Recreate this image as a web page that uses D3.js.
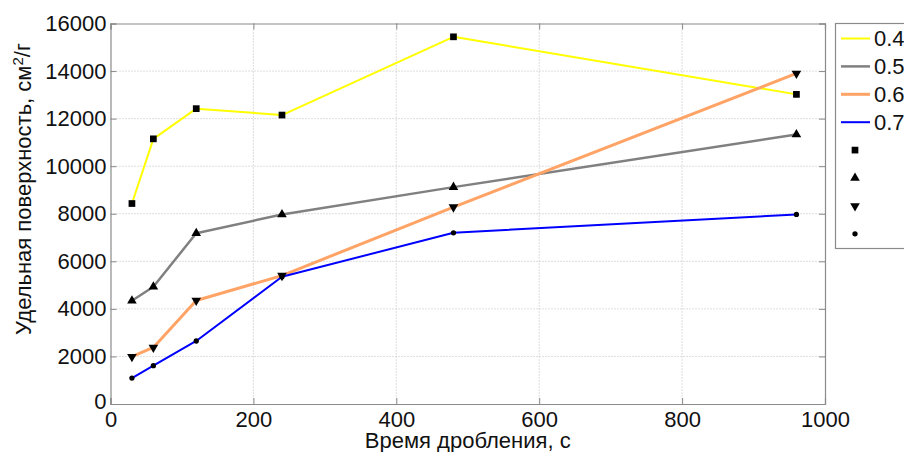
<!DOCTYPE html>
<html><head><meta charset="utf-8">
<script src="https://cdn.jsdelivr.net/npm/d3@7"></script>
<style>body{margin:0;background:#fff}svg{display:block;font-family:Arial,"Liberation Sans",sans-serif}</style>
</head><body><svg id="c" width="904" height="452"></svg>
<script>
const times = [30, 60, 120, 240, 480, 960];
const seriesNames = ["0.4", "0.5", "0.6", "0.7"];
const s04 = [8430, 11150, 12420, 12150, 15440, 13020];
const s05 = [4340, 4930, 7180, 7970, 9120, 11330];
const s06 = [1990, 2380, 4350, 5400, 8280, 13900];
const s07 = [1090, 1610, 2650, 5350, 7200, 7970];
const xTicks = [0, 200, 400, 600, 800, 1000];
const yTicks = [0, 2000, 4000, 6000, 8000, 10000, 12000, 14000, 16000];

const colors = ["#ffff00", "#808080", "#ffa466", "#0000ff"];
const widths = [2, 2.5, 3, 2];
const symbols = [d3.symbolSquare, d3.symbolTriangle, "down", d3.symbolCircle];
const symSizes = [45, 40, 40, 22];
const allSeries = [s04, s05, s06, s07];

const svg = d3.select("#c");
const L = 110.5, R = 825, T = 23.5, B = 404;
const x = d3.scaleLinear().domain([0, 1000]).range([L, R]);
const y = d3.scaleLinear().domain([0, 16000]).range([B, T]);

// grid
const g = svg.append("g");
g.selectAll(".gx").data(xTicks.slice(1, -1)).join("line")
  .attr("x1", d => x(d)).attr("x2", d => x(d)).attr("y1", T).attr("y2", B)
  .attr("stroke", "#bdbdbd").attr("stroke-width", 1).attr("stroke-dasharray", "1,2");
g.selectAll(".gy").data(yTicks.slice(1, -1)).join("line")
  .attr("y1", d => y(d)).attr("y2", d => y(d)).attr("x1", L).attr("x2", R)
  .attr("stroke", "#bdbdbd").attr("stroke-width", 1).attr("stroke-dasharray", "1,2");

// axes
const axColor = "#8a8a8a";
const xAxis = svg.append("g").attr("transform", `translate(0,${B})`)
  .call(d3.axisBottom(x).tickValues(xTicks).tickSize(-6).tickPadding(7).tickFormat(d3.format("d")));
const xAxisTop = svg.append("g").attr("transform", `translate(0,${T})`)
  .call(d3.axisTop(x).tickValues(xTicks).tickSize(-6).tickFormat(""));
const yAxis = svg.append("g").attr("transform", `translate(${L},0)`)
  .call(d3.axisLeft(y).tickValues(yTicks).tickSize(-6).tickPadding(4).tickFormat(d3.format("d")));
const yAxisR = svg.append("g").attr("transform", `translate(${R},0)`)
  .call(d3.axisRight(y).tickValues(yTicks).tickSize(-6).tickFormat(""));
[xAxis, xAxisTop, yAxis, yAxisR].forEach(a => {
  a.select(".domain").attr("stroke", axColor).attr("stroke-width", 1.2);
  a.selectAll(".tick line").attr("stroke", axColor);
  a.selectAll("text").attr("font-size", 22).attr("fill", "#111").attr("font-family", "Arial, 'Liberation Sans', sans-serif");
});
// MATLAB style: the y "0" sits slightly higher
yAxis.selectAll(".tick text").filter(d => d === 0).attr("dy", "0.2em");

// lines
const line = d3.line().x((d, i) => x(times[i])).y(d => y(d));
allSeries.forEach((s, k) => {
  svg.append("path").datum(s).attr("d", line).attr("fill", "none")
    .attr("stroke", colors[k]).attr("stroke-width", widths[k]).attr("stroke-linejoin", "round");
});
function symPath(k) {
  if (symbols[k] === "down") return d3.symbol().type(d3.symbolTriangle).size(symSizes[k])();
  return d3.symbol().type(symbols[k]).size(symSizes[k])();
}
allSeries.forEach((s, k) => {
  svg.append("g").selectAll("path").data(s).join("path")
    .attr("d", symPath(k))
    .attr("transform", (d, i) => `translate(${x(times[i])},${y(d)})` + (symbols[k] === "down" ? " rotate(180)" : ""))
    .attr("fill", "#000");
});

// axis labels
svg.append("text").attr("x", (L + R) / 2).attr("y", 447.5).attr("text-anchor", "middle")
  .attr("font-size", 22).attr("fill", "#111").text("Время дробления, с");
const yl = svg.append("text").attr("transform", "translate(31,189) rotate(-90)")
  .attr("text-anchor", "middle").attr("font-size", 22).attr("fill", "#111");
yl.append("tspan").text("Удельная поверхность, см");
yl.append("tspan").attr("font-size", 15).attr("dy", "-0.55em").text("2");
yl.append("tspan").attr("dy", "0.35em").text("/г");

// legend
const lg = svg.append("g");
lg.append("rect").attr("x", 835.5).attr("y", 23.5).attr("width", 80).attr("height", 225)
  .attr("fill", "#fff").attr("stroke", axColor).attr("stroke-width", 1.2);
const legY0 = 38.5, legStep = 27.9;
seriesNames.forEach((n, k) => {
  const yy = legY0 + k * legStep;
  lg.append("line").attr("x1", 841).attr("x2", 870).attr("y1", yy).attr("y2", yy)
    .attr("stroke", colors[k]).attr("stroke-width", widths[k]);
  lg.append("text").attr("x", 874).attr("y", yy).attr("dy", "0.36em")
    .attr("font-size", 22).attr("fill", "#111").text(n);
});
seriesNames.forEach((n, k) => {
  const yy = legY0 + (k + 4) * legStep;
  lg.append("path").attr("d", symPath(k))
    .attr("transform", `translate(855,${yy})` + (symbols[k] === "down" ? " rotate(180)" : ""))
    .attr("fill", "#000");
});
</script></body></html>
